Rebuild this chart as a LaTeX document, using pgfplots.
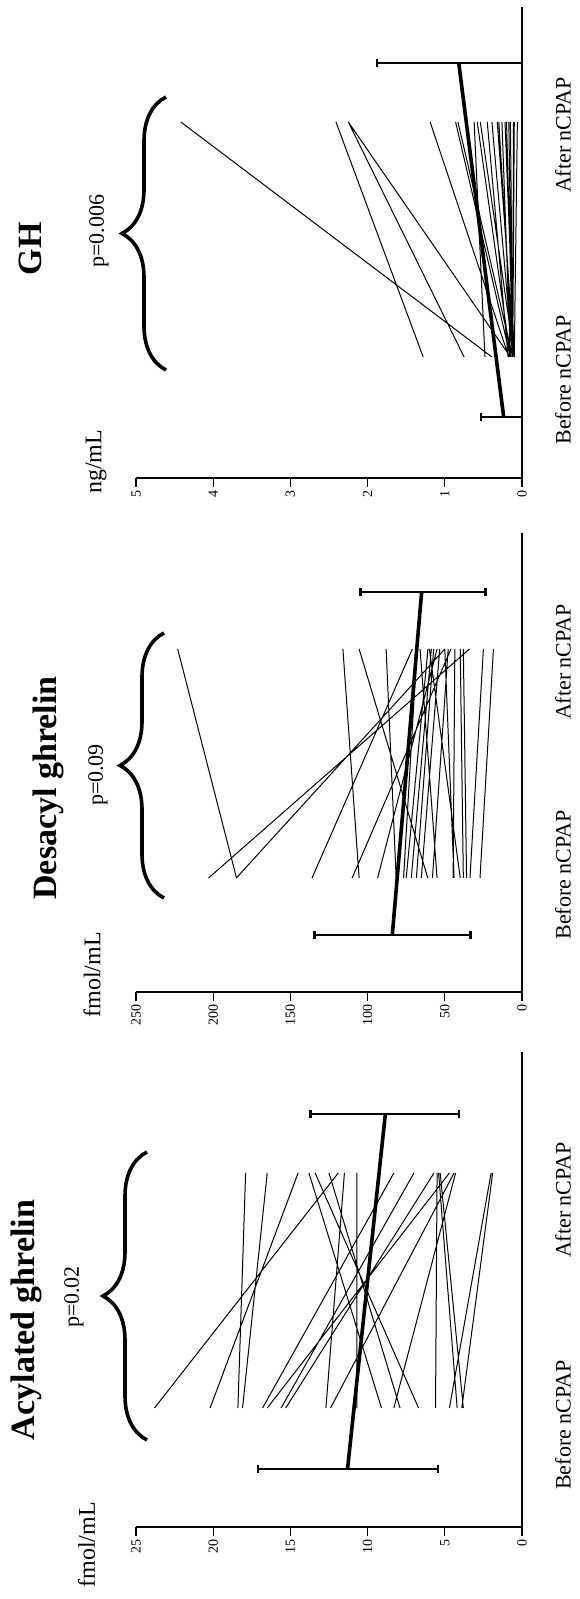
\documentclass[border=0pt]{standalone}
\usepackage{fontspec}
\setmainfont{Liberation Serif}
\usepackage{pgfplots}
\pgfplotsset{compat=1.18}
\usetikzlibrary{decorations.pathreplacing}

\pgfplotsset{
  panel/.style={
    scale only axis, width=193pt,
    x dir=reverse, xmin=0, ymin=0,
    axis x line=bottom, axis y line=none,
    axis line style={-, line width=0.6pt, black},
    tick align=outside, major tick length=4.5pt,
    xtick style={line width=0.6pt, black},
    xticklabel style={rotate=90, anchor=east, font=\fontsize{7}{8}\selectfont, inner sep=1.5pt},
    /pgf/number format/assume math mode=true,
    ytick=\empty, clip=false, anchor=south,
    unbounded coords=jump,
  },
  indiv/.style={black, line width=0.5pt, mark=none},
  meanl/.style={black, line width=1.8pt, mark=none},
  ebar/.style={black, line width=1.3pt, mark=|, mark size=2pt, every mark/.append style={solid, line width=1.3pt}},
}
\tikzset{
  br/.style={decorate, decoration={brace, amplitude=22pt}, line width=1.8pt},
  ttl/.style={rotate=90, font=\fontsize{17}{19}\selectfont\bfseries},
  pv/.style={rotate=90, font=\fontsize{11}{13}\selectfont},
  cat/.style={rotate=90, font=\fontsize{11}{13}\selectfont},
  unit/.style={rotate=90, font=\fontsize{12}{14}\selectfont},
}

\begin{document}
\begin{tikzpicture}
\useasboundingbox (0,0) rectangle (289.5pt,799.5pt);

% ---------------- Panel 1: Acylated ghrelin ----------------
\begin{axis}[panel, at={(164.5pt,36pt)}, height=237.5pt,
  xmax=25, ymax=475, xtick={0,5,10,15,20,25}]
\addplot[indiv] coordinates {
 (23.8,119) (11.9,354) (nan,nan)
 (20.2,119) (14.5,354) (nan,nan)
 (18.4,119) (17.9,354) (nan,nan)
 (18.1,119) (16.5,354) (nan,nan)
 (16.8,119) (8.3,354) (nan,nan)
 (16.5,119) (4.7,354) (nan,nan)
 (15.6,119) (7.0,354) (nan,nan)
 (15.3,119) (5.7,354) (nan,nan)
 (12.7,119) (11.5,354) (nan,nan)
 (12.4,119) (4.4,354) (nan,nan)
 (10.7,119) (10.7,354) (nan,nan)
 (9.1,119) (13.8,354) (nan,nan)
 (8.3,119) (4.3,354) (nan,nan)
 (7.9,119) (12.5,354) (nan,nan)
 (6.7,119) (13.4,354) (nan,nan)
 (5.6,119) (5.5,354) (nan,nan)
 (4.7,119) (2.0,354) (nan,nan)
 (4.2,119) (5.4,354) (nan,nan)
 (3.9,119) (1.9,354) (nan,nan)
 (3.8,119) (5.3,354)
};
\addplot[ebar] coordinates {(17.1,58) (5.44,58)};
\addplot[ebar] coordinates {(13.7,413) (4.08,413)};
\addplot[meanl] coordinates {(11.3,58) (8.85,413)};
\draw[line width=0.6pt] (axis cs:0,0) -- (axis cs:0,475);
\end{axis}

% ---------------- Panel 2: Desacyl ghrelin ----------------
\begin{axis}[panel, at={(164.5pt,303.5pt)}, height=229.5pt,
  xmax=250, ymax=459, xtick={0,50,100,150,200,250}]
\addplot[indiv] coordinates {
 (184.9,114) (223,343) (nan,nan)
 (203,114) (34,343) (nan,nan)
 (185,114) (50,343) (nan,nan)
 (136,114) (71,343) (nan,nan)
 (105.5,114) (116,343) (nan,nan)
 (61,114) (105.5,343) (nan,nan)
 (81.5,114) (88,343) (nan,nan)
 (110,114) (46,343) (nan,nan)
 (93.5,114) (55,343) (nan,nan)
 (76.7,114) (68,343) (nan,nan)
 (75,114) (60.9,343) (nan,nan)
 (71.7,114) (58.7,343) (nan,nan)
 (68.4,114) (57.2,343) (nan,nan)
 (65.2,114) (53.3,343) (nan,nan)
 (58,114) (47.8,343) (nan,nan)
 (44.6,114) (43.5,343) (nan,nan)
 (38,114) (40,343) (nan,nan)
 (35.9,114) (38,343) (nan,nan)
 (33.7,114) (25,343) (nan,nan)
 (27.2,114) (18.5,343) (nan,nan)
 (40,114) (60,343) (nan,nan)
 (55,114) (66,343) (nan,nan)
 (44,114) (50,343)
};
\addplot[ebar] coordinates {(134.5,57) (33.4,57)};
\addplot[ebar] coordinates {(104.7,400) (23.5,400)};
\addplot[meanl] coordinates {(84,57) (65,400)};
\draw[line width=0.6pt] (axis cs:0,0) -- (axis cs:0,459);
\end{axis}

% ---------------- Panel 3: GH ----------------
\begin{axis}[panel, at={(164.5pt,560.5pt)}, height=235.5pt,
  xmax=5, ymax=471, xtick={0,1,2,3,4,5}]
\addplot[indiv] coordinates {
 (0.39,121) (4.42,356) (nan,nan)
 (1.28,121) (2.41,356) (nan,nan)
 (0.75,121) (2.25,356) (nan,nan)
 (0.15,121) (2.25,356) (nan,nan)
 (0.17,121) (1.19,356) (nan,nan)
 (0.15,121) (0.86,356) (nan,nan)
 (0.12,121) (0.83,356) (nan,nan)
 (0.48,121) (0.62,356) (nan,nan)
 (0.15,121) (0.58,356) (nan,nan)
 (0.10,121) (0.54,356) (nan,nan)
 (0.18,121) (0.45,356) (nan,nan)
 (0.12,121) (0.39,356) (nan,nan)
 (0.10,121) (0.32,356) (nan,nan)
 (0.15,121) (0.26,356) (nan,nan)
 (0.10,121) (0.22,356) (nan,nan)
 (0.13,121) (0.17,356) (nan,nan)
 (0.12,121) (0.11,356) (nan,nan)
 (0.10,121) (0.06,356) (nan,nan)
 (0.12,121) (0.15,356) (nan,nan)
 (0.12,121) (0.10,356) (nan,nan)
 (0.12,121) (0.20,356) (nan,nan)
 (0.12,121) (0.30,356)
};
\addplot[ebar, mark indices={1}] coordinates {(0.53,61) (0,61)};
\addplot[ebar, mark indices={1}] coordinates {(1.876,415) (0,415)};
\addplot[meanl] coordinates {(0.237,61) (0.819,415)};
\draw[line width=0.6pt] (axis cs:0,0) -- (axis cs:0,471);
\end{axis}

% ---------------- annotations ----------------
% Panel 1
\node[ttl] at (13pt,139.5pt) {Acylated ghrelin};
\node[pv] at (37pt,151pt) {p=0.02};
\draw[br] (73.5pt,79.5pt) -- (73.5pt,223.5pt);
\node[unit] at (43.25pt,27pt) {fmol/mL};
\node[cat] at (281.5pt,87pt) {Before nCPAP};
\node[cat] at (281.5pt,199.5pt) {After nCPAP};
% Panel 2
\node[ttl] at (24pt,405.5pt) {Desacyl ghrelin};
\node[pv] at (49pt,412pt) {p=0.09};
\draw[br] (82pt,350.5pt) -- (82pt,483pt);
\node[unit] at (46pt,312pt) {fmol/mL};
\node[cat] at (281.5pt,362pt) {Before nCPAP};
\node[cat] at (281.5pt,468.5pt) {After nCPAP};
% Panel 3
\node[ttl] at (15pt,675pt) {GH};
\node[pv] at (49.5pt,684pt) {p=0.006};
\draw[br] (83pt,614.5pt) -- (83pt,751pt);
\node[unit] at (48pt,568.5pt) {ng/mL};
\node[cat] at (281.5pt,609.5pt) {Before nCPAP};
\node[cat] at (281.5pt,732pt) {After nCPAP};
\end{tikzpicture}
\end{document}
